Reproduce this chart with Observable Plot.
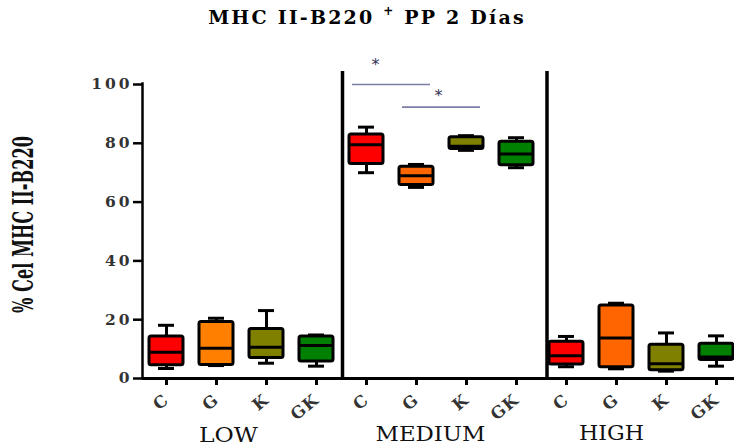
<!DOCTYPE html>
<html><head><meta charset="utf-8">
<script src="https://cdn.jsdelivr.net/npm/d3@7"></script>
<script src="https://cdn.jsdelivr.net/npm/@observablehq/plot@0.6"></script>
<style>
body{margin:0;background:#fff;}
#wrap{position:relative;width:734px;height:448px;overflow:hidden;}
#title{position:absolute;top:6px;left:0;width:734px;text-align:center;font-family:"DejaVu Serif";font-weight:bold;font-size:19px;letter-spacing:2.2px;color:#000;}
#title sup{font-size:12px;position:relative;top:-2px;}
</style></head><body>
<div id="wrap"><div id="title">MHC II-B220 <sup>+</sup> PP 2 Días</div></div>
<script>
// Groups and treatments
const groups = ["LOW", "MEDIUM", "HIGH"];
const treatments = ["C", "G", "K", "GK"];
// Box statistics, order: LOW C,G,K,GK | MEDIUM C,G,K,GK | HIGH C,G,K,GK
const minVals    = [3.4, 4.4, 5.2, 4.2,   70.0, 65.0, 77.6, 71.7,   4.0, 3.3, 2.5, 4.2];
const q1Vals     = [4.5, 4.6, 7.0, 5.8,   73.0, 65.8, 78.1, 72.5,   4.8, 3.8, 2.8, 6.3];
const medianVals = [8.9, 10.3, 10.6, 11.2, 79.5, 69.0, 79.0, 76.4,  7.7, 13.8, 5.0, 7.3];
const q3Vals     = [14.3, 19.2, 16.8, 14.3, 83.0, 72.0, 82.1, 80.5, 12.5, 24.8, 11.5, 11.8];
const maxVals    = [18.1, 20.5, 23.1, 14.8, 85.5, 72.8, 82.6, 81.9, 14.3, 25.6, 15.5, 14.5];
const boxFills   = ["#ff0000", "#ff8000", "#808000", "#008000",
                    "#ff0000", "#ff6600", "#808000", "#008000",
                    "#ff0000", "#ff6600", "#808000", "#008000"];
const yTicks = [0, 20, 40, 60, 80, 100];
const yLabel = "% Cel MHC II-B220";
// significance brackets (from, to, level) and star levels
const sigFrom = ["MEDIUM-C", "MEDIUM-G"];
const sigTo = ["MEDIUM-G", "MEDIUM-K"];
const sigLevel = [100, 92.3];
const starLevel = [106.7, 96.2];

const keys = groups.flatMap(g => treatments.map(t => `${g}-${t}`));
const rows = keys.map((k, i) => ({key: k, min: minVals[i], q1: q1Vals[i], median: medianVals[i], q3: q3Vals[i], max: maxVals[i], fill: boxFills[i]}));
const sigRows = sigFrom.map((f, i) => ({from: f, to: sigTo[i], y: sigLevel[i]}));

const serif = "DejaVu Serif";
const chart = Plot.plot({
  width: 734, height: 448,
  marginTop: 84, marginBottom: 70, marginLeft: 142, marginRight: 0,
  style: {background: "#fff", fontFamily: serif},
  x: {type: "band", domain: keys, range: [141, 741], paddingInner: 0.32, paddingOuter: 0.16, align: 0.5, label: null},
  y: {domain: [0, 100], label: null},
  color: {type: "identity"},
  marks: [
    Plot.axisY({ticks: yTicks, tickSize: 9, tickPadding: 1, fontSize: 15.5, fontWeight: "bold", label: null}),
    Plot.axisX({tickSize: 7, tickPadding: 12, tickRotate: -40, fontSize: 16.5, fontWeight: "bold", tickFormat: k => k.split("-")[1], label: null}),
    Plot.ruleY([0], {stroke: "#000", strokeWidth: 3}),
    Plot.ruleX(["LOW-C"], {y1: 0, y2: 100.6, dx: -24, stroke: "#000", strokeWidth: 2.5}),
    Plot.ruleX(["MEDIUM-C"], {y1: 0, y2: 104.4, dx: -24, stroke: "#000", strokeWidth: 3.5}),
    Plot.ruleX(["HIGH-C"], {y1: 0, y2: 104.4, dx: -19.5, stroke: "#000", strokeWidth: 3.5}),
    // whiskers
    Plot.ruleX(rows, {x: "key", y1: "min", y2: "max", stroke: "#000", strokeWidth: 3}),
    Plot.tickY(rows, {x: "key", y: "max", stroke: "#000", strokeWidth: 3, insetLeft: 9, insetRight: 9}),
    Plot.tickY(rows, {x: "key", y: "min", stroke: "#000", strokeWidth: 3, insetLeft: 9, insetRight: 9}),
    // boxes
    Plot.barY(rows, {x: "key", y1: "q1", y2: "q3", fill: "fill", stroke: "#000", strokeWidth: 3, rx: 2}),
    Plot.tickY(rows, {x: "key", y: "median", stroke: "#000", strokeWidth: 3}),
    // significance
    Plot.ruleY(sigRows, {y: "y", x1: "from", x2: "to", stroke: "#7c7ea6", strokeWidth: 1.6, insetLeft: 3, insetRight: 3}),
    Plot.text(["*"], {x: () => sigFrom[0], y: () => starLevel[0], dx: 9, text: d => d, fontSize: 16, fontFamily: "DejaVu Sans", fill: "#333355"}),
    Plot.text(["*"], {x: () => sigTo[0], y: () => starLevel[1], dx: 22, text: d => d, fontSize: 16, fontFamily: "DejaVu Sans", fill: "#333355"}),
    // group labels
    Plot.text([groups[0]], {x: () => "LOW-G", frameAnchor: "bottom", dy: 63, dx: 12, text: d => d, fontSize: 20, fill: "#111"}),
    Plot.text([groups[1]], {x: () => "MEDIUM-G", frameAnchor: "bottom", dy: 62, dx: 14, text: d => d, fontSize: 20, fill: "#111"}),
    Plot.text([groups[2]], {x: () => "HIGH-G", frameAnchor: "bottom", dy: 61, dx: -5, text: d => d, fontSize: 20, fill: "#111"}),
    // y label
    Plot.text([yLabel], {frameAnchor: "left", textAnchor: "middle", rotate: -90, dx: -118, dy: -7, text: d => d, fontSize: 27, fontFamily: "DejaVu Serif Condensed", fontWeight: "bold", fill: "#111"})
  ]
});
document.getElementById("wrap").prepend(chart);
const s = d3.select(chart);
s.selectAll('g[aria-label="y-axis tick label"] text').style("fill", "#333").style("letter-spacing", "3px");
s.selectAll('g[aria-label="y-axis tick"]').attr("stroke-width", 2.5);
s.selectAll('g[aria-label="x-axis tick label"] text').style("fill", "#333").style("letter-spacing", "1px");
s.selectAll('g[aria-label="x-axis tick"]').attr("stroke-width", 3);
const fitWidths = {"LOW": 59, "MEDIUM": 110, "HIGH": 65, [yLabel]: 177};
s.selectAll("text").filter(function() { return this.textContent in fitWidths; })
  .attr("textLength", function() { return fitWidths[this.textContent]; })
  .attr("lengthAdjust", "spacingAndGlyphs");
</script>
</body></html>
